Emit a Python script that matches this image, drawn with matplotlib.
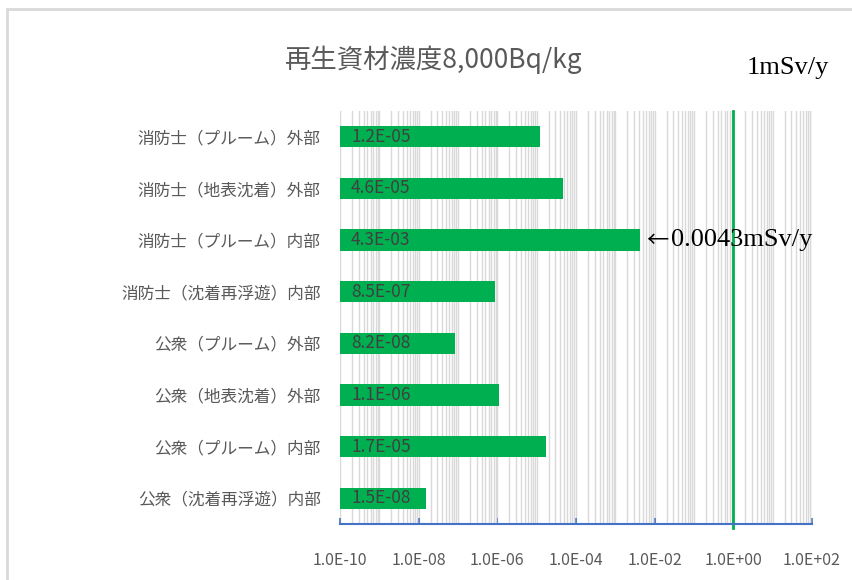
import matplotlib
matplotlib.use("Agg")
import matplotlib.pyplot as plt
from matplotlib.ticker import LogLocator, FuncFormatter, NullFormatter
from matplotlib.patches import Rectangle

# 被ばく経路ごとの線量 (mSv/y)
categories = ["消防士（プルーム）外部", "消防士（地表沈着）外部", "消防士（プルーム）内部",
              "消防士（沈着再浮遊）内部", "公衆（プルーム）外部", "公衆（地表沈着）外部",
              "公衆（プルーム）内部", "公衆（沈着再浮遊）内部"]
doses = [1.2e-05, 4.6e-05, 4.3e-03, 8.5e-07, 8.2e-08, 1.1e-06, 1.7e-05, 1.5e-08]
dose_labels = ["1.2E-05", "4.6E-05", "4.3E-03", "8.5E-07", "8.2E-08", "1.1E-06", "1.7E-05", "1.5E-08"]
limit = 1.0  # 1mSv/y
x_min, x_max = 1e-10, 1e2

green = "#00B050"
cjk = ["Noto Sans CJK JP", "DejaVu Sans"]
serif = ["Liberation Serif", "DejaVu Serif"]

fig = plt.figure(figsize=(8.53, 5.8), dpi=100)
ax = fig.add_axes([340 / 853, 1 - 524 / 580, 472 / 853, 413 / 580])

y = list(range(len(categories)))
ax.barh(y, [d - x_min for d in doses], left=x_min, height=0.41, color=green, zorder=3)
ax.set_xscale("log")
ax.set_xlim(x_min, x_max)
ax.set_ylim(7.5, -0.5)

# 目盛り
ax.xaxis.set_major_locator(LogLocator(base=100, numticks=20))
ax.xaxis.set_minor_locator(LogLocator(base=10, subs=[1, 2, 3, 4, 5, 6, 7, 8, 9], numticks=50))
ax.xaxis.set_major_formatter(FuncFormatter(lambda v, p: f"{v:.1E}"))
ax.xaxis.set_minor_formatter(NullFormatter())
ax.grid(which="both", axis="x", color="#D9D9D9", linewidth=1, zorder=0)
ax.tick_params(axis="x", which="major", direction="in", length=4, width=1.2, color="#4472C4",
               pad=20, labelsize=11.5, labelcolor="#595959")
ax.tick_params(axis="x", which="minor", length=0)
for lab in ax.get_xticklabels():
    lab.set_family(cjk)

ax.set_yticks(y)
ax.set_yticklabels(categories, family=cjk, fontsize=12, color="#595959")
ax.tick_params(axis="y", length=0, pad=14)

for s in ["top", "right", "left"]:
    ax.spines[s].set_visible(False)
ax.spines["bottom"].set_color("#4472C4")
ax.spines["bottom"].set_linewidth(1.5)
ax.spines["bottom"].set_zorder(4)

# バー内の値
for yi, txt in zip(y, dose_labels):
    ax.annotate(txt, xy=(x_min, yi), xytext=(8, 0), textcoords="offset points",
                ha="left", va="center", fontsize=12.5, color="#404040", family=cjk, zorder=5)

# 1mSv/y の線
ax.axvline(limit, ymin=-0.01, ymax=1, color=green, linewidth=2, zorder=4, clip_on=False)
ax.annotate("←", xy=(doses[2], 2), xytext=(4, 0), textcoords="offset points",
            ha="left", va="center", fontsize=16, color="black", family=cjk, zorder=6)
ax.annotate("0.0043mSv/y", xy=(doses[2], 2), xytext=(22, 0), textcoords="offset points",
            ha="left", va="center", fontsize=19, color="black", family=serif, zorder=6)
fig.text(747 / 853, 1 - 68 / 580, "1mSv/y", ha="left", va="center", fontsize=19,
         color="black", family=serif)

fig.text(434 / 853, 1 - 60 / 580, "再生資材濃度8,000Bq/kg", ha="center", va="center",
         fontsize=19, color="#595959", family=cjk)

# 外枠
fig.add_artist(Rectangle((7 / 853, -0.5), 2, 0.5 + 1 - 9 / 580, transform=fig.transFigure,
                         fill=False, edgecolor="#D9D9D9", linewidth=2))

fig.savefig("out.png", dpi=100)
